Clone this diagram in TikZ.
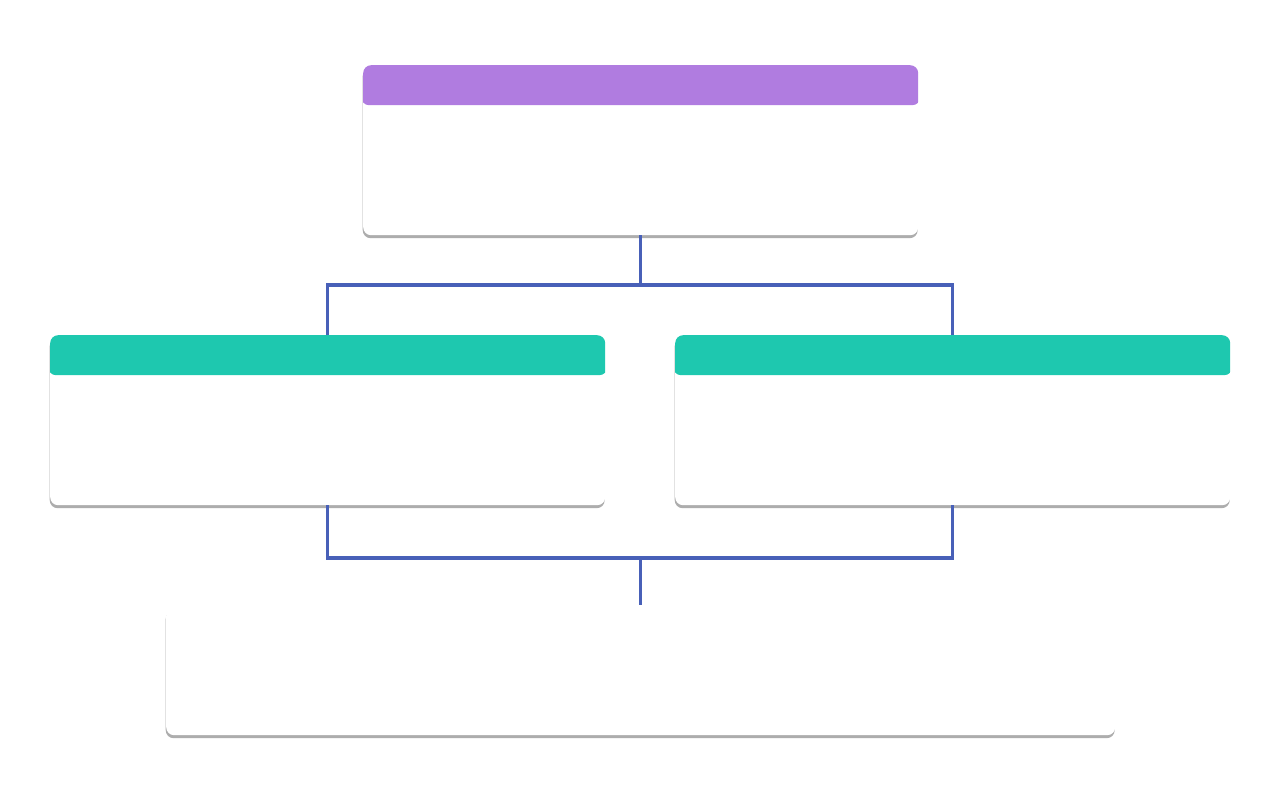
\documentclass[tikz,border=0pt]{standalone}
\usetikzlibrary{shadows}
\definecolor{hdrpurple}{RGB}{176,124,224}
\definecolor{hdrteal}{RGB}{30,200,175}
\definecolor{connblue}{RGB}{72,96,184}
\tikzset{
  card/.style={rectangle, rounded corners=8pt, fill=white, draw=none,
    anchor=north west, inner sep=0pt,
    drop shadow={shadow xshift=-0.5pt, shadow yshift=-3pt, fill=black!32, opacity=1}},
  hdr/.style={path picture={\fill[#1] ([xshift=-2pt,yshift=2pt]path picture bounding box.north west) rectangle ([xshift=2pt,yshift=-40pt]path picture bounding box.north east);}},
  conn/.style={draw=connblue, line width=3.5pt}
}
\begin{document}
\begin{tikzpicture}[x=1pt,y=-1pt]
\useasboundingbox[fill=white] (0,0) rectangle (1280,800);
\node[card, hdr=hdrpurple, minimum width=555pt, minimum height=170pt] (top) at (363,65) {};
\node[card, hdr=hdrteal, minimum width=555pt, minimum height=170pt] (left) at (50,335) {};
\node[card, hdr=hdrteal, minimum width=555pt, minimum height=170pt] (right) at (675,335) {};
\node[card, minimum width=949pt, minimum height=127pt] (bot) at (166,608) {};
\coordinate (j1) at (640,285);
\coordinate (j2) at (640,558);
\draw[conn] (top.south) -- (top.south |- j1);
\draw[conn, line join=miter] (left.north) -- (left.north |- j1) -- (right.north |- j1) -- (right.north);
\draw[conn, line join=miter] (left.south) -- (left.south |- j2) -- (right.south |- j2) -- (right.south);
\draw[conn, shorten >=3pt] (bot.north |- j2) -- (bot.north);
\end{tikzpicture}
\end{document}
